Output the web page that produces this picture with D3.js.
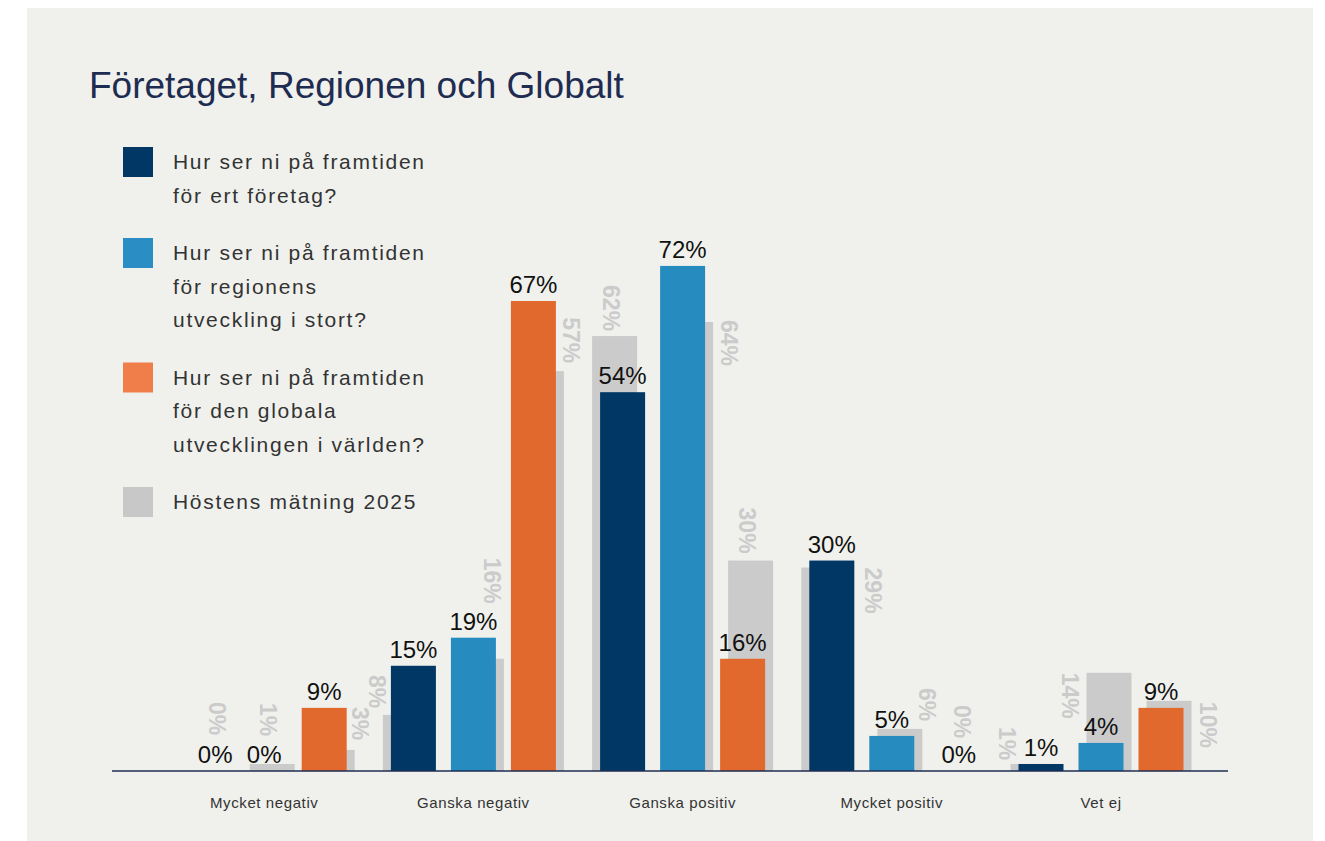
<!DOCTYPE html>
<html>
<head>
<meta charset="utf-8">
<script src="https://cdn.jsdelivr.net/npm/d3@7"></script>
<style>
  body { margin: 0; background: #fff; }
  svg { display: block; font-family: "Liberation Sans", Arial, sans-serif; }
</style>
</head>
<body>
<svg width="1325" height="841"></svg>
<script>
const categories = ['Mycket negativ', 'Ganska negativ', 'Ganska positiv', 'Mycket positiv', 'Vet ej'];
const foretag = [0, 15, 54, 30, 1];
const regionen = [0, 19, 72, 5, 4];
const globalt = [9, 67, 16, 0, 9];
const hostForetag = [0, 8, 62, 29, 1];
const hostRegionen = [1, 16, 64, 6, 14];
const hostGlobalt = [3, 57, 30, 0, 10];
const legendLabels = [
    ['Hur ser ni på framtiden', 'för ert företag?'],
    ['Hur ser ni på framtiden', 'för regionens', 'utveckling i stort?'],
    ['Hur ser ni på framtiden', 'för den globala', 'utvecklingen i världen?'],
    ['Höstens mätning 2025']
];
const title = 'Företaget, Regionen och Globalt';

// colours: bars, legend swatches
const barColors = ['#003764', '#268bbf', '#e2692e'];
const swatchColors = ['#003764', '#2a8ec4', '#f07e4b', '#c8c8c8'];
const grayColor = '#cbcbcb';

// where each grey label sits, relative to its grey bar [dx from centre, dy from top]
// (index = category*3 + series)
const grayLabelAt = [
    [21, -69], [-4, -61], [28, -43],
    [-28, -40], [11, -101], [30, -54],
    [-3, -51], [39, -2], [-3, -53],
    [49, 0], [27, -41], [2, -66],
    [-26, -37], [-39, 0], [39, 1]
];
const valueLabelDx = [11, 0, 0, 0, 0, 0, 0, 0, 0, 0, 0, 7, 0, 0, 0];

let svg = d3.select('svg');

svg.append('rect')
    .attr('x', 27).attr('y', 8)
    .attr('width', 1286).attr('height', 841)
    .attr('fill', '#f0f1ed');

svg.append('text')
    .attr('x', 89).attr('y', 98)
    .attr('font-size', 37)
    .attr('fill', '#1f2c52')
    .text(title);

let x = d3.scaleBand()
    .domain(categories)
    .range([159.6, 1205.6]);
let y = d3.scaleLinear()
    .domain([0, 100])
    .range([771, 69.5]);

let barW = 45,
    step = 60,
    grayShift = [-8, 8, 8];

let colored = [foretag, regionen, globalt];
let grays = [hostForetag, hostRegionen, hostGlobalt];

let cells = [];
categories.forEach((c, ci) => {
    for (let s = 0; s < 3; s++) {
        let cx = x(c) + x.bandwidth() / 2 + (s - 1) * step;
        cells.push({
            idx: ci * 3 + s,
            s: s,
            cx: cx,
            gx: cx + grayShift[s],
            v: colored[s][ci],
            g: grays[s][ci]
        });
    }
});

let chart = svg.append('g');

chart.selectAll('rect.gray').data(cells).enter().append('rect')
    .attr('class', 'gray')
    .attr('x', d => d.gx - barW / 2)
    .attr('width', barW)
    .attr('y', d => y(d.g))
    .attr('height', d => y(0) - y(d.g))
    .attr('fill', grayColor);

chart.selectAll('rect.bar').data(cells).enter().append('rect')
    .attr('class', 'bar')
    .attr('x', d => d.cx - barW / 2)
    .attr('width', barW)
    .attr('y', d => y(d.v))
    .attr('height', d => y(0) - y(d.v))
    .attr('fill', d => barColors[d.s]);

chart.selectAll('text.value').data(cells).enter().append('text')
    .attr('class', 'value')
    .attr('x', d => d.cx + valueLabelDx[d.idx])
    .attr('y', d => y(d.v) - 8)
    .attr('text-anchor', 'middle')
    .attr('font-size', 24)
    .attr('fill', '#111')
    .text(d => d.v + '%');

chart.selectAll('text.grayval').data(cells).enter().append('text')
    .attr('class', 'grayval')
    .attr('transform', d => {
        let p = grayLabelAt[d.idx];
        return `translate(${d.gx + p[0]}, ${y(d.g) + p[1]}) rotate(90)`;
    })
    .attr('dy', '0.36em')
    .attr('font-size', 23)
    .attr('font-weight', 'bold')
    .attr('fill', grayColor)
    .text(d => d.g + '%');

// axis
let axis = svg.append('g')
    .attr('transform', `translate(0, ${y(0)})`)
    .call(d3.axisBottom(x).tickSize(0).tickPadding(26));
axis.select('.domain').remove();
axis.append('line')
    .attr('x1', 112).attr('x2', 1228)
    .attr('stroke', '#1f2c52')
    .attr('stroke-width', 1.5);
axis.selectAll('.tick text')
    .attr('font-size', 15)
    .attr('letter-spacing', 0.6)
    .attr('fill', '#333')
    .attr('font-family', '"Liberation Sans", Arial, sans-serif');

// legend
let legend = svg.append('g');
let lineH = 33.5, gap = 24, baseY = 169;
legendLabels.forEach((lines, i) => {
    let item = legend.append('g');
    item.append('rect')
        .attr('x', 123).attr('y', baseY - 22)
        .attr('width', 30).attr('height', 30)
        .attr('fill', swatchColors[i]);
    item.selectAll('text').data(lines).enter().append('text')
        .attr('x', 173)
        .attr('y', (d, j) => baseY + j * lineH)
        .attr('font-size', 21)
        .attr('letter-spacing', 1.7)
        .attr('fill', '#333')
        .text(d => d);
    baseY += lines.length * lineH + gap;
});
</script>
</body>
</html>
